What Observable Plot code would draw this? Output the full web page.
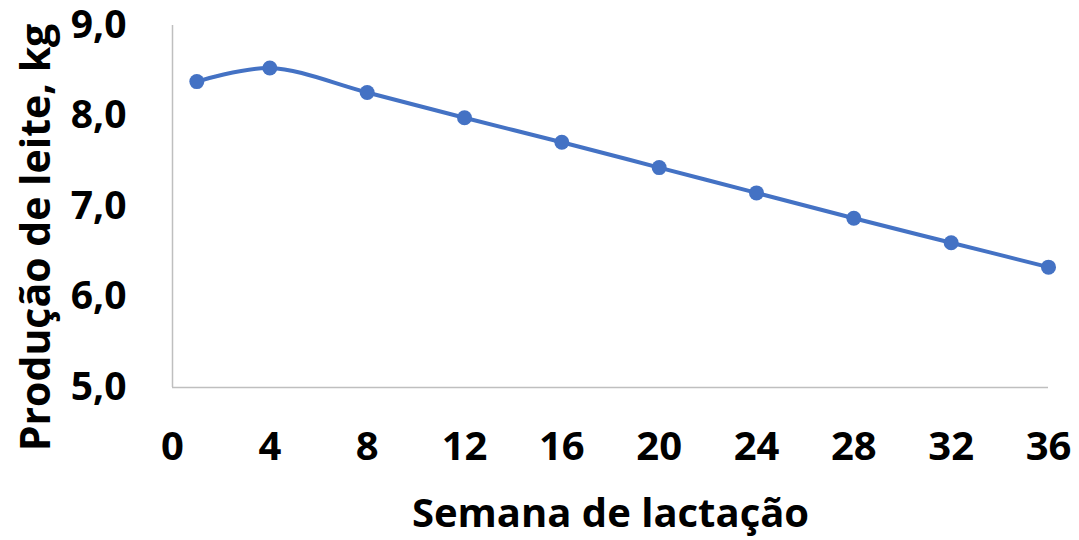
<!DOCTYPE html>
<html>
<head>
<meta charset="utf-8">
<script src="https://cdn.jsdelivr.net/npm/d3@7"></script>
<script src="https://cdn.jsdelivr.net/npm/@observablehq/plot@0.6"></script>
<style>
  html, body { margin: 0; padding: 0; background: #fff; }
  #chart svg { display: block; }
</style>
</head>
<body>
<div id="chart"></div>
<script>
const weeks = [1, 4, 8, 12, 16, 20, 24, 28, 32, 36];
const production = [8.38, 8.53, 8.26, 7.98, 7.71, 7.43, 7.15, 6.87, 6.60, 6.33];
const xTicks = [0, 4, 8, 12, 16, 20, 24, 28, 32, 36];
const yTicks = [5, 6, 7, 8, 9];
const xTitle = "Semana de lactação";
const yTitle = "Produção de leite, kg";

const data = weeks.map((w, i) => ({week: w, value: production[i]}));
const blue = "#4472C4";
const axisGray = "#BFBFBF";
const font = "'Open Sans', 'Noto Sans', sans-serif";

const chart = Plot.plot({
  width: 1079,
  height: 540,
  marginLeft: 172,
  marginRight: 31,
  marginTop: 25,
  marginBottom: 153,
  style: {fontFamily: font, color: "#000", background: "#fff"},
  x: {domain: [0, 36]},
  y: {domain: [5, 9]},
  marks: [
    Plot.ruleX([0], {stroke: axisGray, strokeWidth: 1.5}),
    Plot.ruleY([5], {stroke: axisGray, strokeWidth: 1.5}),
    Plot.axisX(xTicks, {tickSize: 0, tickPadding: 60, lineAnchor: "middle", fontSize: 40, fontWeight: "bold", label: null, fill: "#000"}),
    Plot.axisY(yTicks, {tickSize: 0, tickPadding: 46, fontSize: 39, fontWeight: "bold", label: null, fill: "#000",
      tickFormat: d => d.toFixed(1).replace(".", ",")}),
    Plot.line(data, {x: "week", y: "value", stroke: blue, strokeWidth: 4, curve: "catmull-rom"}),
    Plot.dot(data, {x: "week", y: "value", fill: blue, r: 7.5}),
    Plot.text([xTitle], {frameAnchor: "bottom", lineAnchor: "middle", dy: 127, fontSize: 40, fontWeight: "bold", fill: "#000"}),
    Plot.text([yTitle], {frameAnchor: "left", textAnchor: "middle", lineAnchor: "middle", dx: -136, dy: 31, rotate: -90, fontSize: 41, fontWeight: "bold", fill: "#000"})
  ]
});
document.getElementById("chart").appendChild(chart);
</script>
</body>
</html>
